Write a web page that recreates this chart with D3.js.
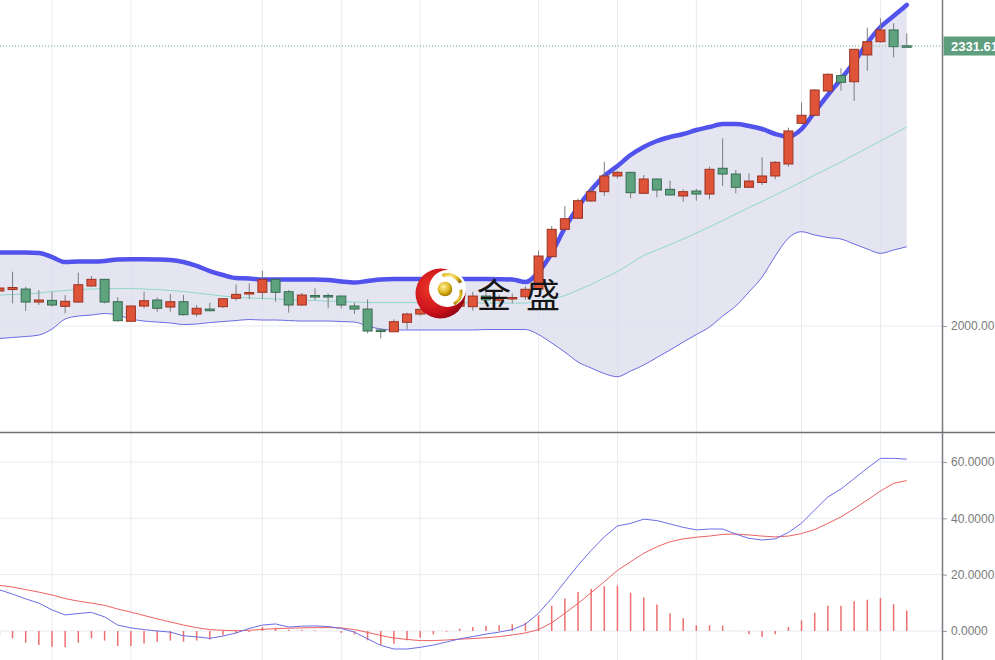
<!DOCTYPE html>
<html><head><meta charset="utf-8">
<script src="https://cdn.jsdelivr.net/npm/d3@7/dist/d3.min.js"></script>
<style>html,body{margin:0;padding:0;background:#fff;overflow:hidden}svg{display:block}</style>
</head><body><svg id="c" width="995" height="660"></svg>
<script>
// ---------- data ----------
const openP = [2041.5,2043.2,2043.8,2028.4,2030.4,2023.3,2028.4,2047.4,2055.3,2028.8,
2005.6,2023.7,2030.8,2022.5,2028.8,2014.2,2020.1,2022.9,2032.8,2037.9,
2039.9,2055.3,2040.6,2024.9,2036.1,2036.1,2035.5,2023.7,2020.1,1995.3,
1993.2,2004.4,2014.2,2019.8,2027.0,2023.5,2022.9,2035.5,2030.5,2032.0,
2034.7,2043.8,2082.1,2114.5,2127.6,2148.1,2159.1,2177.7,2182.0,2157.2,
2174.1,2161.9,2154.0,2159.9,2156.3,2186.8,2180.0,2164.3,2170.0,2177.7,
2191.9,2240.1,2249.6,2278.3,2296.5,2289.3,2321.0,2336.7,2350.6,2331.9];
const highP = [2047.0,2064.3,2046.5,2042.6,2040.6,2036.7,2063.1,2059.2,2055.8,2034.0,
2024.2,2040.6,2034.0,2037.9,2036.7,2024.9,2027.6,2032.8,2049.4,2050.6,
2065.5,2055.8,2042.6,2039.1,2044.7,2038.7,2036.0,2027.6,2031.6,1997.3,
2007.9,2015.8,2021.0,2027.0,2030.0,2033.0,2040.6,2040.0,2037.0,2038.7,
2047.0,2089.2,2118.4,2142.1,2151.2,2164.3,2194.6,2183.9,2182.5,2178.8,
2174.6,2172.1,2161.9,2162.3,2188.7,2222.3,2184.8,2180.9,2199.8,2195.4,
2234.9,2264.9,2280.7,2299.3,2305.2,2328.2,2353.3,2364.4,2358.5,2346.7];
const lowP = [2039.0,2026.9,2017.8,2024.9,2022.9,2015.0,2027.8,2046.8,2026.9,2005.1,
2005.0,2021.0,2016.9,2016.9,2012.4,2011.0,2017.5,2021.0,2030.0,2032.0,
2031.6,2028.8,2015.8,2023.7,2030.8,2021.0,2021.0,2014.2,1991.4,1985.4,
1992.7,1996.1,2012.0,2017.0,2022.0,2021.0,2018.1,2028.0,2028.0,2026.9,
2031.0,2042.6,2081.7,2112.9,2127.1,2147.2,2154.0,2174.9,2151.2,2156.3,
2152.4,2154.6,2147.2,2148.4,2150.1,2165.8,2157.2,2163.4,2167.0,2173.8,
2188.7,2239.8,2249.3,2277.7,2278.7,2266.5,2302.4,2335.8,2318.2,2331.0];
const closeP = [2045.0,2045.6,2028.4,2030.8,2024.9,2029.3,2048.9,2055.3,2028.4,2006.3,
2023.7,2030.0,2021.0,2028.8,2013.4,2021.0,2018.1,2032.3,2037.5,2039.7,
2055.3,2039.9,2024.9,2036.7,2034.9,2034.9,2024.9,2020.1,1994.1,1993.5,
2005.1,2014.2,2019.8,2024.9,2025.5,2030.0,2035.5,2031.0,2033.5,2033.8,
2043.5,2082.9,2114.5,2127.1,2148.4,2159.1,2177.7,2182.0,2157.9,2174.1,
2161.1,2155.2,2159.1,2156.3,2185.6,2180.0,2164.3,2171.7,2177.7,2193.9,
2231.0,2249.6,2279.5,2298.1,2288.6,2327.7,2336.7,2350.6,2330.8,2331.61];

const bollUpper = [2087.1,2087.1,2087.1,2086.5,2081.7,2075.8,2076.4,2076.4,2077.0,2078.8,
2079.0,2079.0,2078.8,2078.2,2075.8,2071.1,2065.1,2060.4,2056.9,2056.3,
2055.1,2055.1,2055.1,2055.1,2055.1,2054.5,2052.7,2051.5,2053.3,2055.1,
2055.7,2055.7,2055.7,2055.7,2055.7,2055.7,2055.7,2055.7,2055.5,2055.1,
2052.1,2064.0,2086.5,2116.1,2140.9,2161.1,2177.7,2189.5,2202.5,2212.0,
2219.1,2223.8,2227.4,2232.1,2235.7,2239.2,2239.2,2236.9,2233.3,2227.4,
2224.4,2233.3,2253.5,2273.6,2292.5,2312.7,2335.2,2354.1,2367.2,2380.2];
const bollMid = [2036.7,2037.3,2037.9,2039.1,2040.9,2042.0,2043.2,2043.8,2044.4,2044.4,
2044.4,2043.8,2043.2,2042.0,2040.9,2039.1,2037.3,2035.5,2034.3,2033.2,
2032.6,2032.0,2031.4,2030.8,2030.2,2029.6,2029.0,2028.4,2027.8,2027.8,
2027.8,2027.8,2027.8,2027.8,2027.8,2027.8,2027.5,2027.2,2027.2,2027.2,
2027.2,2029.6,2032.0,2036.1,2042.6,2049.2,2056.9,2064.5,2074.0,2083.5,
2090.0,2096.5,2103.0,2110.1,2117.3,2125.0,2132.7,2140.3,2147.5,2155.2,
2162.9,2170.6,2178.8,2186.5,2194.2,2202.5,2210.8,2219.1,2227.4,2235.7];
const bollLower = [1985.2,1986.4,1987.6,1989.3,1996.4,2008.3,2011.8,2013.0,2014.8,2013.0,
2008.3,2005.9,2004.7,2003.6,2001.8,2002.4,2004.1,2005.3,2006.5,2007.7,
2007.1,2007.1,2006.5,2005.9,2005.9,2005.9,2005.3,2004.7,2000.0,1996.4,
1995.3,1995.3,1995.3,1995.3,1995.3,1995.3,1995.3,1995.9,1995.9,1995.9,
1995.9,1989.9,1979.9,1969.2,1957.4,1950.3,1943.7,1940.0,1946.7,1953.8,
1962.7,1971.6,1981.0,1989.9,1998.8,2011.8,2023.7,2040.3,2058.0,2082.9,
2104.2,2111.7,2107.8,2104.8,2103.0,2097.1,2091.2,2086.1,2090.0,2093.9];

const macdDIF = [14.6,13.1,11.4,9.9,7.5,5.7,6.2,6.6,5.0,2.1,
1.1,0.5,0.0,-0.4,-1.7,-2.1,-2.6,-1.8,-0.7,0.9,
2.1,2.5,1.4,1.7,1.8,1.6,0.9,-0.4,-2.8,-5.1,
-6.4,-6.4,-5.8,-5.0,-3.9,-2.8,-2.0,-1.1,-0.4,0.5,
2.4,6.3,11.6,17.5,23.3,28.6,33.4,37.3,38.2,39.7,
39.2,38.0,36.8,35.9,36.2,36.2,34.4,32.9,32.3,32.7,
35.0,38.3,43.0,47.6,50.4,54.1,57.8,61.3,61.3,61.0];
const macdDEA = [16.2,15.6,14.7,13.8,12.8,11.5,10.6,9.9,9.1,7.8,
6.7,5.5,4.3,3.2,2.1,1.2,0.5,0.25,0.1,0.25,
0.6,0.8,1.0,1.1,1.2,1.2,1.1,0.5,-0.5,-1.6,
-2.5,-3.0,-3.4,-3.4,-3.2,-2.9,-2.7,-2.4,-2.0,-1.4,
-0.7,0.5,2.9,6.3,9.8,13.6,17.5,21.5,24.6,27.6,
29.9,31.7,32.7,33.3,33.7,34.3,34.4,34.1,33.7,33.4,
33.7,34.6,36.0,38.2,40.5,43.4,46.5,49.7,52.4,53.4];
const macdHist = [-1.6,-2.6,-4.2,-5.0,-5.6,-5.8,-4.2,-2.6,-3.4,-5.3,
-5.3,-4.4,-3.8,-3.4,-3.8,-3.4,-3.0,-1.4,-0.7,-0.4,
1.4,1.2,0.5,0.4,0.3,0.1,-0.7,-1.2,-3.3,-5.0,
-4.5,-3.3,-2.4,-1.2,-0.3,0.8,1.4,1.9,2.0,2.4,
3.0,5.6,8.9,11.5,13.8,14.9,15.9,16.1,13.6,11.9,
9.4,6.3,4.5,2.0,2.0,1.9,0.1,-1.2,-2.1,-1.2,
1.4,3.8,6.5,9.0,9.0,10.6,11.1,11.7,9.5,7.3];

const priceTicks = [2000];
const macdTicks = [0, 20, 40, 60];
const gridIdx = [4, 10, 20, 26, 32, 41, 47, 53, 61, 67];
const brandText = ["金", "盛"];

// ---------- layout ----------
const W = 995, H = 660, axisX = 942, sepY = 432.5;
const N = closeP.length;
const idx = d3.range(N);
const x = d3.scaleLinear().domain([0, N - 1]).range([-0.6, 906.75]);
const yP = d3.scaleLinear().domain([1874.5, 2386.1]).range([432, 0]);
const yM = d3.scaleLinear().domain([-10.3, 69.94]).range([660, 434]);
const FONT = "'Liberation Sans', Arial, Helvetica, sans-serif";

const svg = d3.select("#c");
const defs = svg.append("defs");
defs.append("clipPath").attr("id", "clipP").append("rect").attr("x", 0).attr("y", 0).attr("width", axisX).attr("height", 432);
defs.append("clipPath").attr("id", "clipM").append("rect").attr("x", 0).attr("y", 434).attr("width", axisX).attr("height", 226);
const rg = defs.append("radialGradient").attr("id", "redG").attr("cx", "35%").attr("cy", "40%").attr("r", "70%");
rg.append("stop").attr("offset", "0%").attr("stop-color", "#f03a2a");
rg.append("stop").attr("offset", "70%").attr("stop-color", "#c8101a");
rg.append("stop").attr("offset", "100%").attr("stop-color", "#8a0010");
const gg = defs.append("radialGradient").attr("id", "goldG").attr("cx", "40%").attr("cy", "35%").attr("r", "65%");
gg.append("stop").attr("offset", "0%").attr("stop-color", "#fff2a0");
gg.append("stop").attr("offset", "60%").attr("stop-color", "#e0b820");
gg.append("stop").attr("offset", "100%").attr("stop-color", "#a07a00");

svg.append("rect").attr("width", W).attr("height", H).attr("fill", "#fff");

// ---------- price pane ----------
const gP = svg.append("g").attr("clip-path", "url(#clipP)");
gP.selectAll("line.vg").data(gridIdx).join("line").attr("class", "vg")
  .attr("x1", d => x(d)).attr("x2", d => x(d)).attr("y1", 0).attr("y2", 432)
  .attr("stroke", "#e9ebf0").attr("stroke-width", 1);
gP.selectAll("line.hg").data(priceTicks).join("line").attr("class", "hg")
  .attr("x1", 0).attr("x2", axisX).attr("y1", d => yP(d)).attr("y2", d => yP(d))
  .attr("stroke", "#e9ebf0").attr("stroke-width", 1);

const area = d3.area().x(i => x(i)).y0(i => yP(bollLower[i])).y1(i => yP(bollUpper[i])).curve(d3.curveMonotoneX);
gP.append("path").datum(idx).attr("d", area).attr("fill", "rgb(218,218,236)").attr("fill-opacity", 0.7);

const lineOf = arr => d3.line().x(i => x(i)).y(i => yP(arr[i])).curve(d3.curveMonotoneX);
gP.append("path").datum(idx).attr("d", lineOf(bollMid)).attr("fill", "none").attr("stroke", "#8ed8c8").attr("stroke-width", 1);
gP.append("path").datum(idx).attr("d", lineOf(bollLower)).attr("fill", "none").attr("stroke", "#6a6ae2").attr("stroke-width", 1);
gP.append("path").datum(idx).attr("d", lineOf(bollUpper)).attr("fill", "none").attr("stroke", "#5252ec")
  .attr("stroke-width", 4.5).attr("stroke-linecap", "round").attr("stroke-linejoin", "round");

// candles
const bw = 9;
const up = i => closeP[i] >= openP[i];
const cg = gP.append("g");
cg.selectAll("line.wick").data(idx).join("line").attr("class", "wick")
  .attr("x1", i => x(i)).attr("x2", i => x(i))
  .attr("y1", i => yP(highP[i])).attr("y2", i => yP(lowP[i]))
  .attr("stroke", "#7d7d7d").attr("stroke-width", 1);
cg.selectAll("rect.body").data(idx).join("rect").attr("class", "body")
  .attr("x", i => x(i) - bw / 2).attr("width", bw)
  .attr("y", i => yP(Math.max(openP[i], closeP[i])))
  .attr("height", i => Math.max(1.5, Math.abs(yP(openP[i]) - yP(closeP[i]))))
  .attr("fill", i => up(i) ? "#df5339" : "#5fa37e")
  .attr("stroke", i => up(i) ? "#9a3322" : "#356b50").attr("stroke-width", 1);

// current price line
const last = closeP[N - 1];
svg.append("line").attr("x1", 0).attr("x2", axisX + 4).attr("y1", yP(last)).attr("y2", yP(last))
  .attr("stroke", "#6aa88a").attr("stroke-width", 1).attr("stroke-dasharray", "1,2");

// ---------- logo watermark ----------
const lg = svg.append("g");
const cx0 = 440.5, cy0 = 293.5;
lg.append("circle").attr("cx", cx0).attr("cy", cy0).attr("r", 25).attr("fill", "url(#redG)");
lg.append("circle").attr("cx", cx0 + 7).attr("cy", cy0 - 5).attr("r", 18.5).attr("fill", "#fff");
const arcG = d3.arc();
lg.append("path").attr("transform", `translate(${cx0 + 7},${cy0 - 4})`)
  .attr("d", arcG({innerRadius: 13, outerRadius: 16.5, startAngle: -0.35, endAngle: 1.1}))
  .attr("fill", "url(#goldG)");
lg.append("path").attr("transform", `translate(${cx0 + 6},${cy0 - 2})`)
  .attr("d", arcG({innerRadius: 13, outerRadius: 16, startAngle: 1.45, endAngle: 2.6}))
  .attr("fill", "url(#goldG)");
lg.append("circle").attr("cx", cx0 + 4.5).attr("cy", cy0 - 4.5).attr("r", 7.3).attr("fill", "url(#goldG)");
lg.selectAll("text").data(brandText).join("text")
  .attr("x", (d, k) => 477 + k * 49).attr("y", 307.5)
  .attr("font-family", "'Noto Sans CJK SC','Noto Sans CJK JP',sans-serif")
  .attr("font-size", 34).attr("fill", "#151515").text(d => d);

// ---------- MACD pane ----------
const gM = svg.append("g").attr("clip-path", "url(#clipM)");
gM.selectAll("line.vg").data(gridIdx).join("line").attr("class", "vg")
  .attr("x1", d => x(d)).attr("x2", d => x(d)).attr("y1", 434).attr("y2", 660)
  .attr("stroke", "#e9ebf0").attr("stroke-width", 1);
gM.selectAll("line.hg").data(macdTicks).join("line").attr("class", "hg")
  .attr("x1", 0).attr("x2", axisX).attr("y1", d => yM(d)).attr("y2", d => yM(d))
  .attr("stroke", "#e9ebf0").attr("stroke-width", 1);
gM.selectAll("line.hist").data(idx).join("line").attr("class", "hist")
  .attr("x1", i => x(i)).attr("x2", i => x(i))
  .attr("y1", yM(0)).attr("y2", i => yM(macdHist[i]))
  .attr("stroke", "#ec6f6f").attr("stroke-width", 1.5);
const mLine = arr => d3.line().x(i => x(i)).y(i => yM(arr[i]));
gM.append("path").datum(idx).attr("d", mLine(macdDEA)).attr("fill", "none").attr("stroke", "#ec6262").attr("stroke-width", 1);
gM.append("path").datum(idx).attr("d", mLine(macdDIF)).attr("fill", "none").attr("stroke", "#6c6ce6").attr("stroke-width", 1);

// ---------- frame & axes ----------
svg.append("line").attr("x1", 0).attr("x2", W).attr("y1", sepY).attr("y2", sepY).attr("stroke", "#6e6e74").attr("stroke-width", 1.5);
svg.append("line").attr("x1", axisX + 0.5).attr("x2", axisX + 0.5).attr("y1", 0).attr("y2", H).attr("stroke", "#7a7a80").attr("stroke-width", 1.5);

function styleAxis(g) {
  g.select(".domain").remove();
  g.selectAll(".tick line").attr("stroke", "#999");
  g.selectAll(".tick text").attr("fill", "#7a7a7a").attr("font-family", FONT).attr("font-size", 12);
}
svg.append("g").attr("transform", `translate(${axisX + 1},0)`)
  .call(d3.axisRight(yP).tickValues(priceTicks).tickFormat(d3.format(".2f")).tickSize(4).tickPadding(4))
  .call(styleAxis);
svg.append("g").attr("transform", `translate(${axisX + 1},0)`)
  .call(d3.axisRight(yM).tickValues(macdTicks).tickFormat(d3.format(".4f")).tickSize(4).tickPadding(4))
  .call(styleAxis);

// price label
const ly = yP(last);
svg.append("rect").attr("x", axisX + 1.5).attr("y", ly - 9.5).attr("width", W - axisX).attr("height", 19).attr("fill", "#5e9e7c");
svg.append("text").attr("x", 951).attr("y", ly + 4.6).attr("fill", "#fff").attr("font-family", FONT)
  .attr("font-size", 13).attr("font-weight", "bold").text(d3.format(".2f")(last));
</script></body></html>
